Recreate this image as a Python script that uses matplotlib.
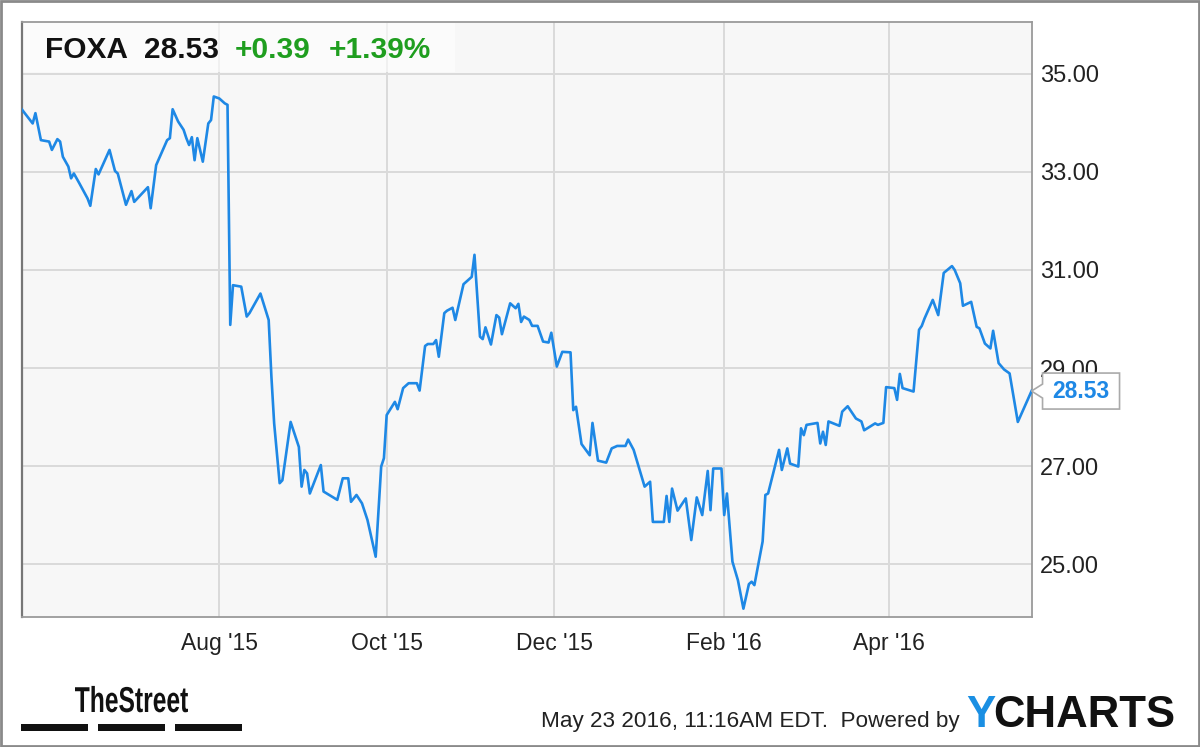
import matplotlib
matplotlib.use("Agg")
import matplotlib.pyplot as plt
import matplotlib.dates as mdates
import matplotlib.patches as mpatches
from matplotlib.textpath import TextPath
from matplotlib.font_manager import FontProperties
from matplotlib.transforms import Affine2D
import pandas as pd

# ── Data ─────────────────────────────────────────────────────────────────────
TICKER = "FOXA"
LAST = 28.53
CHANGE = "+0.39"
CHANGE_PCT = "+1.39%"

dates = [
    "2015-05-21", "2015-05-25", "2015-05-26", "2015-05-28", "2015-05-31", "2015-06-01",
    "2015-06-03", "2015-06-04", "2015-06-05", "2015-06-07", "2015-06-08", "2015-06-09",
    "2015-06-11", "2015-06-14", "2015-06-15", "2015-06-17", "2015-06-18", "2015-06-22",
    "2015-06-24", "2015-06-25", "2015-06-28", "2015-06-30", "2015-07-01", "2015-07-06",
    "2015-07-07", "2015-07-09", "2015-07-13", "2015-07-14", "2015-07-15", "2015-07-17",
    "2015-07-19", "2015-07-20", "2015-07-21", "2015-07-22", "2015-07-23", "2015-07-24",
    "2015-07-26", "2015-07-28", "2015-07-29", "2015-07-30", "2015-08-01", "2015-08-03",
    "2015-08-04", "2015-08-05", "2015-08-06", "2015-08-09", "2015-08-11", "2015-08-12",
    "2015-08-14", "2015-08-16", "2015-08-19", "2015-08-20", "2015-08-21", "2015-08-23",
    "2015-08-24", "2015-08-27", "2015-08-30", "2015-08-31", "2015-09-01", "2015-09-02",
    "2015-09-03", "2015-09-07", "2015-09-08", "2015-09-13", "2015-09-15", "2015-09-17",
    "2015-09-18", "2015-09-20", "2015-09-22", "2015-09-24", "2015-09-27", "2015-09-29",
    "2015-09-30", "2015-10-01", "2015-10-04", "2015-10-05", "2015-10-07", "2015-10-09",
    "2015-10-12", "2015-10-13", "2015-10-15", "2015-10-16", "2015-10-18", "2015-10-19",
    "2015-10-20", "2015-10-22", "2015-10-23", "2015-10-25", "2015-10-26", "2015-10-29",
    "2015-10-31", "2015-11-01", "2015-11-02", "2015-11-04", "2015-11-05", "2015-11-06",
    "2015-11-08", "2015-11-10", "2015-11-11", "2015-11-12", "2015-11-15", "2015-11-17",
    "2015-11-18", "2015-11-19", "2015-11-20", "2015-11-22", "2015-11-23", "2015-11-25",
    "2015-11-27", "2015-11-29", "2015-11-30", "2015-12-02", "2015-12-04", "2015-12-07",
    "2015-12-08", "2015-12-09", "2015-12-11", "2015-12-14", "2015-12-15", "2015-12-17",
    "2015-12-20", "2015-12-22", "2015-12-24", "2015-12-27", "2015-12-28", "2015-12-30",
    "2016-01-03", "2016-01-05", "2016-01-06", "2016-01-10", "2016-01-11", "2016-01-12",
    "2016-01-13", "2016-01-15", "2016-01-18", "2016-01-20", "2016-01-22", "2016-01-24",
    "2016-01-26", "2016-01-27", "2016-01-28", "2016-01-31", "2016-02-01", "2016-02-02",
    "2016-02-04", "2016-02-06", "2016-02-08", "2016-02-10", "2016-02-11", "2016-02-12",
    "2016-02-15", "2016-02-16", "2016-02-17", "2016-02-21", "2016-02-22", "2016-02-24",
    "2016-02-25", "2016-02-28", "2016-02-29", "2016-03-01", "2016-03-02", "2016-03-06",
    "2016-03-07", "2016-03-08", "2016-03-09", "2016-03-10", "2016-03-14", "2016-03-15",
    "2016-03-17", "2016-03-20", "2016-03-22", "2016-03-23", "2016-03-27", "2016-03-28",
    "2016-03-30", "2016-03-31", "2016-04-03", "2016-04-04", "2016-04-05", "2016-04-06",
    "2016-04-10", "2016-04-12", "2016-04-13", "2016-04-14", "2016-04-17", "2016-04-19",
    "2016-04-21", "2016-04-24", "2016-04-25", "2016-04-27", "2016-04-28", "2016-05-01",
    "2016-05-03", "2016-05-04", "2016-05-06", "2016-05-08", "2016-05-09", "2016-05-11",
    "2016-05-13", "2016-05-15", "2016-05-18", "2016-05-23",
]

prices = [
    34.28, 33.99, 34.20, 33.65, 33.62, 33.45,
    33.67, 33.62, 33.31, 33.11, 32.87, 32.97,
    32.77, 32.46, 32.31, 33.06, 32.95, 33.45,
    33.02, 32.97, 32.33, 32.61, 32.39, 32.69,
    32.26, 33.14, 33.65, 33.69, 34.28, 34.03,
    33.86, 33.69, 33.55, 33.71, 33.24, 33.69,
    33.21, 33.99, 34.06, 34.54, 34.50, 34.40,
    34.37, 29.88, 30.69, 30.66, 30.05, 30.12,
    30.32, 30.52, 29.98, 28.82, 27.87, 26.65,
    26.71, 27.90, 27.39, 26.58, 26.92, 26.85,
    26.44, 27.02, 26.48, 26.31, 26.75, 26.75,
    26.27, 26.41, 26.24, 25.90, 25.15, 26.99,
    27.16, 28.04, 28.31, 28.16, 28.59, 28.69,
    28.69, 28.54, 29.45, 29.49, 29.49, 29.57,
    29.23, 30.12, 30.17, 30.23, 29.98, 30.71,
    30.81, 30.86, 31.31, 29.64, 29.59, 29.83,
    29.48, 30.08, 30.03, 29.69, 30.32, 30.22,
    30.31, 29.94, 30.05, 29.98, 29.86, 29.86,
    29.54, 29.52, 29.72, 29.03, 29.33, 29.32,
    28.14, 28.21, 27.45, 27.22, 27.88, 27.11,
    27.07, 27.36, 27.41, 27.41, 27.54, 27.33,
    26.58, 26.68, 25.86, 25.86, 26.39, 25.86,
    26.54, 26.09, 26.34, 25.49, 26.36, 26.00,
    26.90, 26.10, 26.95, 26.95, 26.00, 26.44,
    25.05, 24.67, 24.09, 24.59, 24.64, 24.57,
    25.46, 26.41, 26.44, 27.33, 26.92, 27.36,
    27.05, 26.99, 27.77, 27.63, 27.84, 27.88,
    27.46, 27.70, 27.43, 27.91, 27.82, 28.11,
    28.22, 27.97, 27.91, 27.73, 27.87, 27.84,
    27.88, 28.61, 28.59, 28.35, 28.88, 28.59,
    28.52, 29.78, 29.86, 30.01, 30.39, 30.08,
    30.94, 31.08, 31.00, 30.73, 30.27, 30.35,
    29.84, 29.81, 29.50, 29.40, 29.76, 29.10,
    28.97, 28.89, 27.90, 28.53,
]

y_ticks = [25, 27, 29, 31, 33, 35]
x_ticks = ["2015-08-01", "2015-10-01", "2015-12-01", "2016-02-01", "2016-04-01"]

# ── Figure ────────────────────────────────────────────────────────────────────
W, H = 1200, 747
plt.rcParams["font.family"] = ["Liberation Sans", "DejaVu Sans"]

LINE = "#1e88e5"
GREEN = "#1f9e1f"
GRID = "#dadada"
EDGE = "#9a9a9a"

fig = plt.figure(figsize=(W / 100, H / 100), dpi=100, facecolor="white")
ax = fig.add_axes([21.7 / W, 1 - 617 / H, (1032 - 21.7) / W, (617 - 22) / H])
ax.set_facecolor("#f7f7f7")

x = pd.to_datetime(dates)
ax.plot(x, prices, color=LINE, linewidth=1.9, solid_joinstyle="round", zorder=3)

ax.set_xlim(pd.Timestamp("2015-05-21"), pd.Timestamp("2016-05-23 04:00"))
ax.set_ylim(23.92, 36.06)

ax.set_xticks(pd.to_datetime(x_ticks))
ax.xaxis.set_major_formatter(mdates.DateFormatter("%b '%y"))
ax.set_yticks(y_ticks)
ax.set_yticklabels([f"{v:.2f}" for v in y_ticks])
ax.yaxis.tick_right()
ax.tick_params(axis="both", length=0, colors="#222222")
ax.tick_params(axis="x", pad=11, labelsize=16.5)
ax.tick_params(axis="y", pad=6, labelsize=17)
ax.grid(True, color=GRID, linewidth=1.4)
ax.set_axisbelow(True)
for side in ["top", "bottom", "right"]:
    ax.spines[side].set_color(EDGE)
    ax.spines[side].set_linewidth(1.3)
ax.spines["left"].set_color("#777777")
ax.spines["left"].set_linewidth(1.6)

# header panel over the plot area
hdr = mpatches.Rectangle((21.7 / W, 1 - 72 / H), (455 - 21.7) / W, 50 / H,
                         transform=fig.transFigure, facecolor="white", alpha=0.6,
                         edgecolor="none", zorder=2)
ax.add_patch(hdr)
hy = 1 - 50 / H
hdr_font = dict(fontsize=21.5, fontweight="bold", va="center")
fig.text(45 / W, hy, TICKER, color="#111111", **hdr_font)
fig.text(144 / W, hy, f"{LAST:.2f}", color="#111111", **hdr_font)
fig.text(235 / W, hy, CHANGE, color=GREEN, **hdr_font)
fig.text(329 / W, hy, CHANGE_PCT, color=GREEN, **hdr_font)

# last price callout
tip_x, tip_y = ax.transData.transform((mdates.date2num(x[-1]), prices[-1]))
bx, bw, bh, notch = tip_x + 11, 77, 36, 7
callout = mpatches.Polygon(
    [(tip_x, tip_y), (bx, tip_y + notch), (bx, tip_y + bh / 2), (bx + bw, tip_y + bh / 2),
     (bx + bw, tip_y - bh / 2), (bx, tip_y - bh / 2), (bx, tip_y - notch)],
    closed=True, transform=None, facecolor="white", edgecolor="#aaaaaa",
    linewidth=1.2, zorder=5, clip_on=False)
fig.add_artist(callout)
fig.text((bx + bw / 2) / W, tip_y / H, f"{prices[-1]:.2f}", fontsize=16.5, fontweight="bold",
         color=LINE, ha="center", va="center", zorder=6)

# footer: condensed "TheStreet" wordmark
tp = TextPath((0, 0), "TheStreet", size=36,
              prop=FontProperties(family="Liberation Sans", weight="bold"))
ext = tp.get_extents()
sx = (188 - 75) / ext.width
logo = mpatches.PathPatch(tp, transform=Affine2D().scale(sx, 1.0).translate(75 - ext.x0 * sx, H - 712),
                          facecolor="#111111", edgecolor="none")
fig.add_artist(logo)
for x0, x1 in [(21, 88), (98, 165), (175, 242)]:
    fig.add_artist(mpatches.Rectangle((x0 / W, 1 - 731 / H), (x1 - x0) / W, 7 / H,
                                      transform=fig.transFigure, facecolor="#111111",
                                      edgecolor="none"))
fig.text(960 / W, 1 - 727 / H, "May 23 2016, 11:16AM EDT.  Powered by", fontsize=16.2,
         color="#222222", ha="right", va="baseline")
fig.text(966 / W, 1 - 727 / H, "Y", fontsize=31.5, fontweight="bold", color="#1a8fe3",
         va="baseline")
fig.text(993 / W, 1 - 727 / H, "CHARTS", fontsize=31.5, fontweight="bold", color="#111111",
         va="baseline")

# outer frame
fig.add_artist(mpatches.Rectangle((0.001, 0.001), 0.998, 0.997, transform=fig.transFigure,
                                  facecolor="none", edgecolor="#8a8a8a", linewidth=2))

fig.savefig("out.png", dpi=100)
